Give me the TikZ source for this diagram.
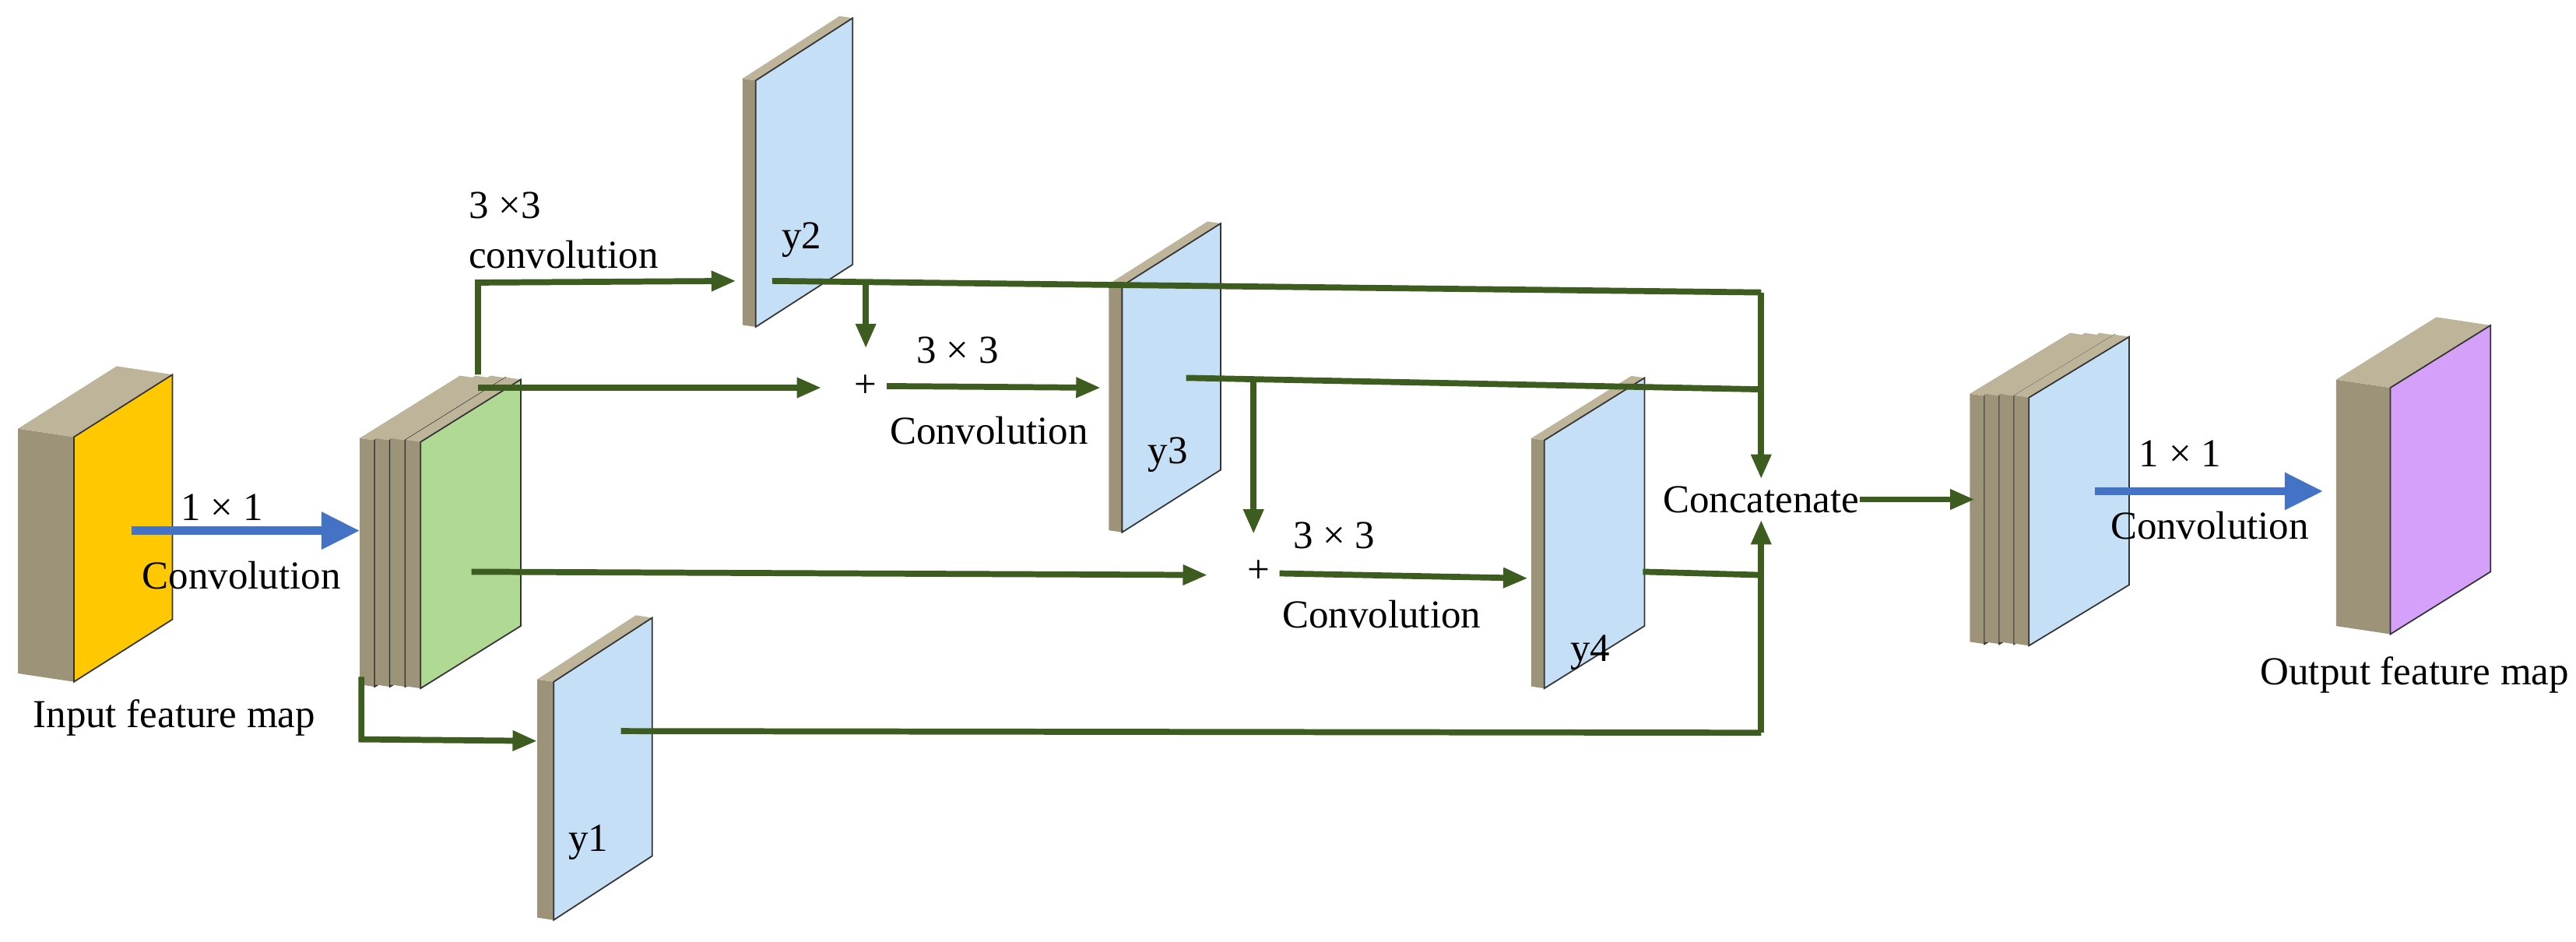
\documentclass[tikz,border=0pt]{standalone}
\usepackage{fontspec}
\setmainfont{Liberation Serif}
\usetikzlibrary{arrows.meta,calc}
\definecolor{slabside}{HTML}{9C9379}
\definecolor{slabtop}{HTML}{BDB49A}
\definecolor{mapyellow}{HTML}{FFC800}
\definecolor{mapgreen}{HTML}{B0DA94}
\definecolor{mapblue}{HTML}{C5DFF6}
\definecolor{mappurple}{HTML}{D5A0FA}
\definecolor{flowgreen}{HTML}{3D5C1F}
\definecolor{convblue}{HTML}{4472C4}
\tikzset{every picture/.style={
  >={Triangle[length=9pt,width=7pt]}   % filled arrow heads
  }
}
% slab: name, x, y (front top-left), width, height, skew, depth, front colour
\newcommand\slab[8]{%
  \fill[slabside] (#2,#3) -- ({#2-#7},{#3-0.15*#7}) -- ({#2-#7},{#3+#5-0.15*#7}) -- (#2,{#3+#5}) -- cycle;
  \fill[slabtop] (#2,#3) -- ({#2+#4},{#3-#6}) -- ({#2+#4-#7},{#3-#6-0.15*#7}) -- ({#2-#7},{#3-0.15*#7}) -- cycle;
  \draw[fill=#8,draw=black!80,line width=0.5pt] (#2,#3) -- ({#2+#4},{#3-#6}) -- ({#2+#4},{#3+#5-#6}) -- (#2,{#3+#5}) -- cycle;
  \coordinate (#1) at ({#2+#4/2},{#3+#5/2-#6/2});
}
\begin{document}
\begin{tikzpicture}[x=0.0211cm,y=-0.0211cm,
    flow/.style={draw=flowgreen,line width=2.2pt},
    conv/.style={draw=convblue,line width=3pt,-{Triangle[length=14pt,width=13pt]}},
    lbl/.style={font=\fontsize{14.5}{17}\selectfont,inner sep=0pt},
    plus/.style={font=\fontsize{14.5}{17}\selectfont,inner sep=1pt},
  ]
  \useasboundingbox (0,0) rectangle (1568,573);
  % feature maps
  \slab{input}{45}{266}{60}{149}{38}{34}{mapyellow}
  \foreach \i in {0,1,2}{
    \slab{mid\i}{228+9.3*\i}{268}{61}{150}{38}{9}{slabtop}
  }
  \slab{mid}{256}{269}{61}{150}{38}{9}{mapgreen}
  \slab{ytwo}{460}{49}{59}{150}{38}{8}{mapblue}
  \slab{ythree}{683}{174}{60}{150}{38}{8}{mapblue}
  \slab{yfour}{940}{268}{61}{151}{38}{8}{mapblue}
  \slab{yone}{337}{415}{60}{145}{39}{10}{mapblue}
  \foreach \i in {0,1,2}{
    \slab{cat\i}{1208+9*\i}{241}{61}{151}{37}{9}{slabtop}
  }
  \slab{cat}{1235}{242}{61}{151}{37}{9}{mapblue}
  \slab{output}{1455}{236}{61}{150}{38}{33}{mappurple}

  % plus signs and labels
  \node[plus] (plusone) at (527,235) {+};
  \node[plus] (plustwo) at (766,348) {+};
  \node[lbl] (concat) at (1072,304) {Concatenate};
  \node[lbl] (ytwolbl) at (488,146) {y2};
  \node[lbl] (ythreelbl) at (711,277) {y3};
  \node[lbl] (yfourlbl) at (968,397) {y4};
  \node[lbl] (yonelbl) at (358,513) {y1};
  \node[lbl] (inlbl) at (106,437) {Input feature map};
  \node[lbl,anchor=east] (outlbl) at (1564,411) {Output feature map};
  \node[lbl] (kone) at (135,309) {1 × 1};
  \node[lbl] (convone) at (147,350) {Convolution};
  \node[lbl,anchor=west] (ktwo) at (285,125) {3 ×3};
  \node[lbl,anchor=west] (convtwo) at (285,155) {convolution};
  \node[lbl] (kthree) at (583,213) {3 × 3};
  \node[lbl] (convthree) at (602,262) {Convolution};
  \node[lbl] (kfour) at (812,326) {3 × 3};
  \node[lbl] (convfour) at (841,374) {Convolution};
  \node[lbl] (kfive) at (1327,276) {1 × 1};
  \node[lbl] (convfive) at (1345,320) {Convolution};

  % junction points
  \coordinate (inA) at (80,323);    \coordinate (inB) at (219,323);
  \coordinate (upA) at (291,228);   \coordinate (upB) at (291,172);
  \coordinate (ytwoIn) at (448,171);
  \coordinate (midA) at (291,236);  \coordinate (midB) at (500,236);
  \coordinate (ytwoOut) at (470,171); \coordinate (jTwo) at (1072,178);
  \coordinate (brOne) at (527,172.3); \coordinate (brOneEnd) at (527,212);
  \coordinate (ythreeIn) at (670,236);
  \coordinate (ythreeOut) at (722,230); \coordinate (jThree) at (1072,237);
  \coordinate (brTwo) at (763,231);  \coordinate (brTwoEnd) at (763,325);
  \coordinate (lowA) at (287,348);   \coordinate (lowB) at (735,350);
  \coordinate (yfourIn) at (930,352);
  \coordinate (yfourOut) at (1000,348); \coordinate (jFour) at (1072,350);
  \coordinate (botA) at (220,412);   \coordinate (botB) at (220,450);
  \coordinate (yoneIn) at (327,451);
  \coordinate (yoneOut) at (378,445); \coordinate (jOne) at (1072,446);
  \coordinate (catIn) at (1202,304);
  \coordinate (outA) at (1275,299);  \coordinate (outB) at (1414,299);

  % connectors
  \draw[conv] (inA) -- (inB);
  \draw[flow,->] (upA) -- (upB) -- (ytwoIn);
  \draw[flow,->] (midA) -- (midB);
  \draw[flow] (ytwoOut) -- (jTwo);
  \draw[flow,->] (jTwo) -- ($(concat.north -| jTwo)+(0,-4)$);
  \draw[flow,->] (brOne) -- (brOneEnd);
  \draw[flow,->] ($(plusone.east)+(4,0)$) -- (ythreeIn);
  \draw[flow] (ythreeOut) -- (jThree);
  \draw[flow,->] (brTwo) -- (brTwoEnd);
  \draw[flow,->] (lowA) -- (lowB);
  \draw[flow,->] ($(plustwo.east)+(4,1)$) -- (yfourIn);
  \draw[flow] (yfourOut) -- (jFour);
  \draw[flow,->] (botA) -- (botB) -- (yoneIn);
  \draw[flow] (yoneOut) -- (jOne);
  \draw[flow,->] (jOne) -- ($(concat.south -| jOne)+(0,4)$);
  \draw[flow,->] (concat.east) -- (catIn);
  \draw[conv] (outA) -- (outB);
\end{tikzpicture}
\end{document}
